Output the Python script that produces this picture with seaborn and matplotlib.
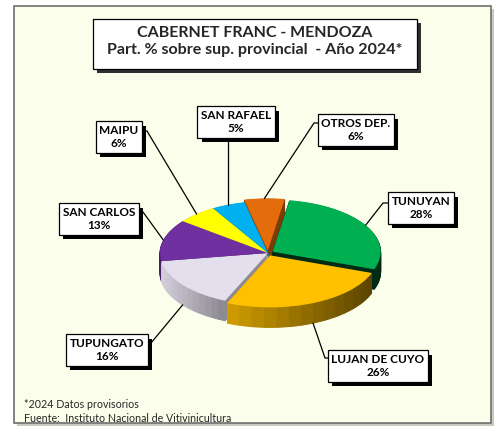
import matplotlib
matplotlib.use('Agg')
import matplotlib.pyplot as plt
import seaborn as sns
import numpy as np
from matplotlib.patches import Rectangle
from matplotlib.lines import Line2D
from matplotlib import patheffects as pe
from matplotlib.colors import to_rgb

# ---------------- data ----------------
departamentos = ['TUNUYAN', 'LUJAN DE CUYO', 'TUPUNGATO', 'SAN CARLOS',
                 'MAIPU', 'SAN RAFAEL', 'OTROS DEP.']
participacion = [28, 26, 16, 13, 6, 5, 6]

titulo = 'CABERNET FRANC - MENDOZA\nPart. % sobre sup. provincial  - Año 2024*'
nota = ['*2024 Datos provisorios', 'Fuente:  Instituto Nacional de Vitivinicultura']

# ---------------- style ----------------
colores = ['#00B050', '#FFC000', '#E4DFEC', '#7030A0', '#FFFF00', '#00B0F0', '#E46C0A']
# side shading (brightness at light end, dark end)
sombra = [(0.36, 0.24), (0.80, 0.36), (0.93, 0.62), (0.62, 0.45),
          (0.62, 0.55), (0.62, 0.55), (0.68, 0.55)]
explosion = [0.05, 0.05, 0, 0, 0, 0, 0.05]

sns.set_theme(style='white')
plt.rcParams['font.family'] = ['Lato', 'DejaVu Sans']

W, H = 496, 428
fig = plt.figure(figsize=(W / 100, H / 100), dpi=100)
fig.patch.set_facecolor('white')


def fx(x):
    return x / W


def fy(y):
    return 1 - y / H


# chart area with shadow
fig.patches.append(Rectangle((fx(17), fy(426)), (494 - 17) / W, (426 - 9) / H,
                             transform=fig.transFigure, facecolor='#C9C9C2',
                             edgecolor='none', zorder=-3))
fig.patches.append(Rectangle((fx(14), fy(423)), (491 - 14) / W, (423 - 6) / H,
                             transform=fig.transFigure, facecolor='#FAFEEB',
                             edgecolor='#6E6E6E', lw=1.2, zorder=-2))

# ---------------- pie (pseudo 3D) ----------------
RX, RY = 108, 52
CX, CY = 268, 253
XL, YL = 1.5, 2.0
START = 81
ax = fig.add_axes([fx(CX - XL * RX), fy(CY + YL * RY), 2 * XL * RX / W, 2 * YL * RY / H])
ax.patch.set_alpha(0)

total = float(sum(participacion))
cum = np.cumsum([0] + participacion[:-1])
depth = 20 / RY
n = 24   # depth layers
m = 14   # shading steps per slice side

for i in range(n, 0, -1):
    off = -depth * i / n
    for k, v in enumerate(participacion):
        a0 = START - 360 * cum[k] / total
        mid = np.deg2rad(START - 360 * (cum[k] + v / 2) / total)
        e = explosion[k]
        angs = np.deg2rad(a0 - 360 * (v / total) * (np.arange(m) + 0.5) / m)
        xs = np.cos(angs)
        t = (xs - xs.min()) / max(xs.max() - xs.min(), 1e-9)
        bl, bd = sombra[k]
        base = np.array(to_rgb(colores[k]))
        cols = [tuple(np.clip(base * (bl - (bl - bd) * tt), 0, 1)) for tt in t]
        vals = [v / m] * m + [total - v]
        wedges, _ = ax.pie(vals, startangle=a0, counterclock=False,
                           colors=cols + ['none'],
                           center=(e * np.cos(mid), e * np.sin(mid) + off),
                           wedgeprops=dict(linewidth=0.7))
        for w, c in zip(wedges[:-1], cols):
            w.set_edgecolor(c)
        wedges[-1].set_visible(False)

ax.pie(participacion, explode=explosion, colors=colores, startangle=START,
       counterclock=False, center=(0, 0), wedgeprops=dict(linewidth=0))
ax.set_aspect('auto')
ax.set_xlim(-XL, XL)
ax.set_ylim(-YL, YL)
ax.axis('off')

# ---------------- labels ----------------
cajas = [(421, 208), (378, 366), (107, 350), (99, 219), (119, 137), (236, 122), (356, 130)]
anclas = [((389, 203), (383, 203)), ((331, 358), (325, 358)), ((147, 343), (151, 343)),
          ((138, 212), (143, 212)), ((143, 131), (147, 131)), (None, None),
          ((319, 123), (314, 123))]
lado = [False, True, True, False, False, False, False]

inv = fig.transFigure.inverted()


def caja(x, y, s, size, pad, sh=3, shcol='black'):
    t = fig.text(fx(x), fy(y), s, transform=fig.transFigure, ha='center', va='center',
                 fontsize=size, fontweight='bold', linespacing=1.25, color='black', zorder=5,
                 bbox=dict(boxstyle=f'square,pad={pad}', fc='white', ec='black', lw=0.9))
    t.get_bbox_patch().set_path_effects([
        pe.SimplePatchShadow(offset=(sh, -sh), shadow_rgbFace=shcol, alpha=1.0),
        pe.Normal()])
    return t


for k, (dep, v) in enumerate(zip(departamentos, participacion)):
    ang = np.deg2rad(START - 360 * (cum[k] + v / 2) / total)
    e = explosion[k]
    px, py = (1 + e) * np.cos(ang), (1 + e) * np.sin(ang) - (depth if lado[k] else 0)
    p = inv.transform(ax.transData.transform((px, py)))
    anc, codo = anclas[k]
    if anc is None:
        xs = [p[0], p[0]]
        ys = [p[1], fy(139)]
    else:
        xs = [p[0], fx(codo[0]), fx(anc[0])]
        ys = [p[1], fy(codo[1]), fy(anc[1])]
    fig.add_artist(Line2D(xs, ys, transform=fig.transFigure, color='black', lw=0.9, zorder=4))
    caja(cajas[k][0], cajas[k][1], f'{dep}\n{v}%', 8.5, 0.3)

# title box
tbox = Rectangle((fx(93), fy(69)), (417 - 93) / W, (69 - 19) / H, transform=fig.transFigure,
                 facecolor='white', edgecolor='black', lw=0.9, zorder=3)
tbox.set_path_effects([pe.SimplePatchShadow(offset=(3, -3), shadow_rgbFace='#303030', alpha=1.0),
                       pe.Normal()])
fig.patches.append(tbox)
fig.text(fx(255), fy(41.5), titulo, ha='center', va='center', fontsize=11.5,
         fontweight='bold', linespacing=1.2, zorder=5)

# footnote
fig.text(fx(24), fy(404), nota[0], ha='left', va='center', fontsize=7.7)
fig.text(fx(24), fy(418), nota[1], ha='left', va='center', fontsize=7.7)

fig.savefig('out.png', dpi=100, facecolor='white')
